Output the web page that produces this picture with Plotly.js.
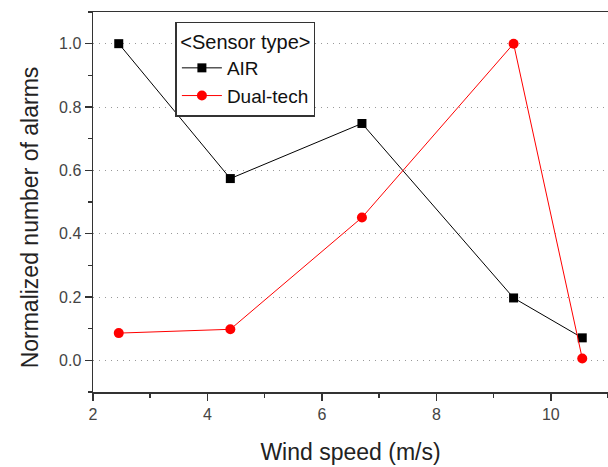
<!DOCTYPE html>
<html><head><meta charset="utf-8">
<script src="https://cdn.plot.ly/plotly-3.0.1.min.js"></script>
<style>body{margin:0;padding:0;background:#fff}#chart{width:608px;height:467px}</style>
</head><body><div id="chart"></div>
<script>
const windSpeed = [2.45, 4.4, 6.7, 9.35, 10.55];
const airValues = [1.0, 0.574, 0.748, 0.197, 0.071];
const dualValues = [0.086, 0.098, 0.451, 1.0, 0.006];
const xTicks = [2, 4, 6, 8, 10];
const yTicks = [0.0, 0.2, 0.4, 0.6, 0.8, 1.0];
const yTickLabels = ['0.0', '0.2', '0.4', '0.6', '0.8', '1.0'];

const font = 'Liberation Sans, Arial, sans-serif';
const traces = [
  {x: windSpeed, y: airValues, name: 'AIR', mode: 'lines+markers',
   line: {color: '#000', width: 1}, marker: {symbol: 'square', size: 9, color: '#000'}},
  {x: windSpeed, y: dualValues, name: 'Dual-tech', mode: 'lines+markers',
   line: {color: '#ff0000', width: 1}, marker: {symbol: 'circle', size: 10, color: '#ff0000'}}
];
const layout = {
  width: 608, height: 467,
  margin: {l: 93, r: 0, t: 12, b: 75},
  paper_bgcolor: '#fff', plot_bgcolor: '#fff',
  font: {family: font, color: '#222'},
  showlegend: true,
  legend: {x: 0.16, y: 0.975, xanchor: 'left', yanchor: 'top',
    bgcolor: '#fff', bordercolor: '#333', borderwidth: 1.5,
    font: {size: 19, family: font, color: '#111'},
    title: {text: '&lt;Sensor type&gt;', side: 'top center', font: {size: 20, family: font, color: '#111'}},
    tracegroupgap: 0, itemwidth: 40},
  xaxis: {range: [2, 11], tickvals: xTicks, ticktext: xTicks.map(String),
    ticks: 'outside', ticklen: 7, tickwidth: 1.5, tickcolor: '#333',
    minor: {dtick: 1, ticks: 'outside', ticklen: 4, tickwidth: 1.5, tickcolor: '#333', showgrid: false},
    showline: true, linecolor: '#333', linewidth: 1.5, mirror: true,
    showgrid: false, zeroline: false,
    tickfont: {size: 16, color: '#444', family: font},
    title: {text: 'Wind speed (m/s)', font: {size: 23, color: '#222', family: font}, standoff: 22}},
  yaxis: {range: [-0.1, 1.1], tickvals: yTicks, ticktext: yTickLabels,
    ticks: 'outside', ticklen: 7, tickwidth: 1.5, tickcolor: '#333',
    minor: {dtick: 0.1, tick0: 0, ticks: 'outside', ticklen: 4, tickwidth: 1.5, tickcolor: '#333', showgrid: false},
    showline: true, linecolor: '#333', linewidth: 1.5,
    showgrid: true, gridcolor: '#999', gridwidth: 1, griddash: '1px,5px',
    zeroline: false,
    tickfont: {size: 16, color: '#444', family: font}},
  annotations: [{text: 'Normalized number of alarms', textangle: -90,
    xref: 'paper', yref: 'paper', x: -0.122, y: 0.46, xanchor: 'center', yanchor: 'middle',
    showarrow: false, font: {size: 23, color: '#222', family: font}}]
};
Plotly.newPlot('chart', traces, layout, {staticPlot: true});
</script></body></html>
